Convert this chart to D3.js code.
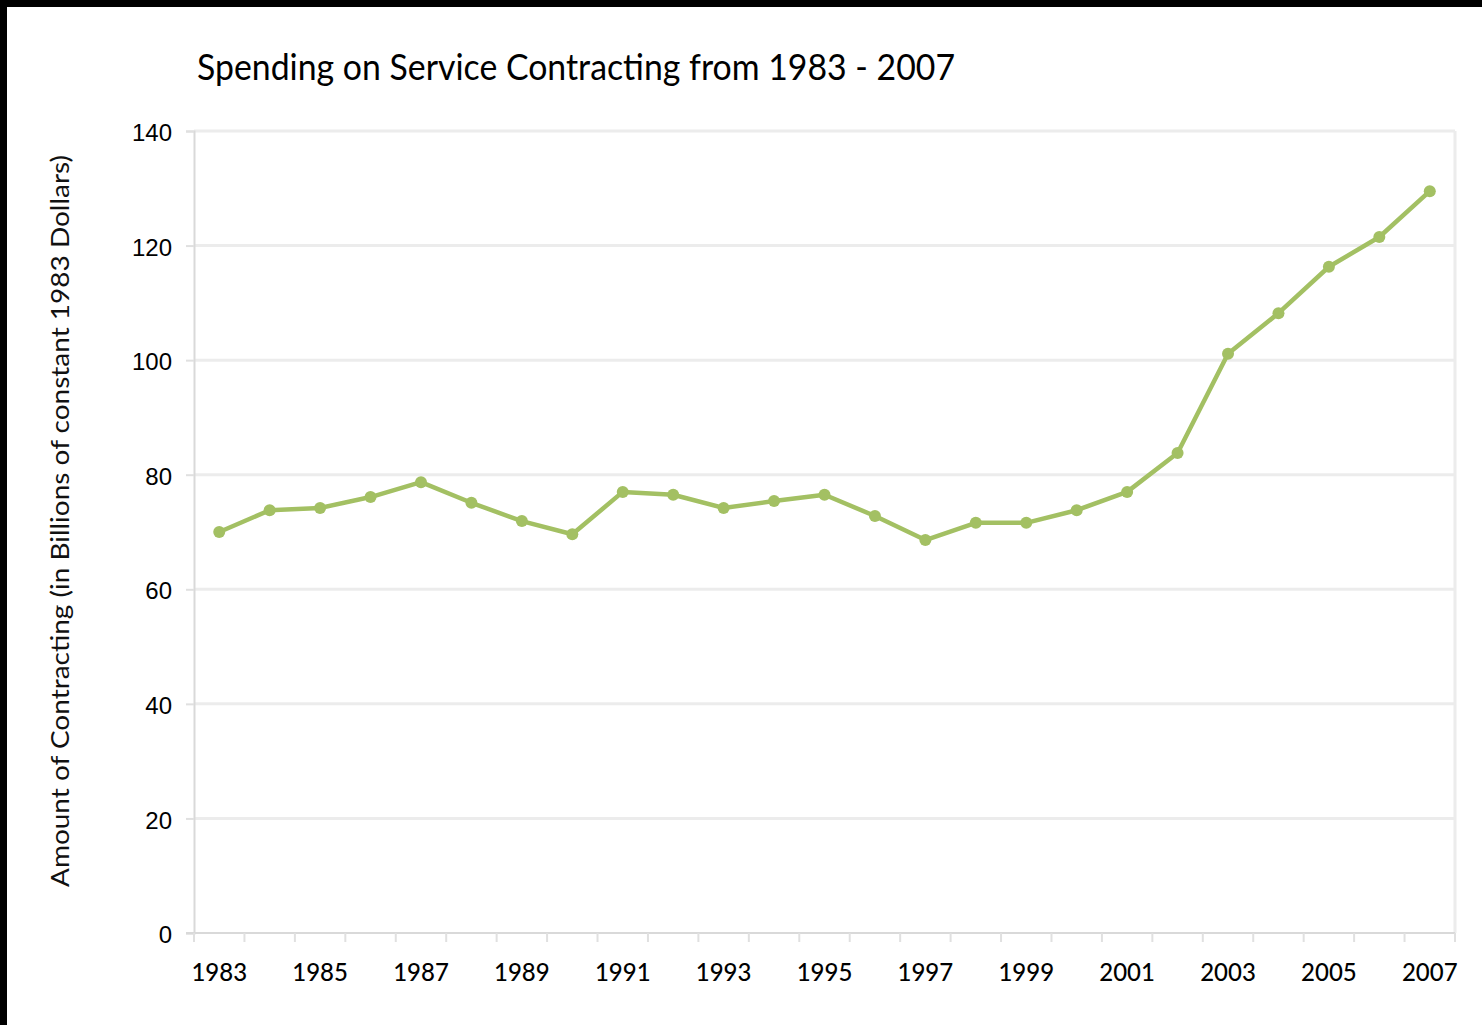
<!DOCTYPE html>
<html>
<head>
<meta charset="utf-8">
<script src="https://cdn.jsdelivr.net/npm/d3@7"></script>
<style>
  html, body { margin: 0; padding: 0; background: #000; }
  .chartWrapper { position: absolute; left: 7px; top: 7px; width: 1475px; height: 1018px; background: #fff; }
</style>
</head>
<body>
<div class="chartWrapper"></div>
<script>
const width = 1482, height = 1025;

const years = ["1983","1984","1985","1986","1987","1988","1989","1990","1991","1992","1993","1994","1995",
  "1996","1997","1998","1999","2000","2001","2002","2003","2004","2005","2006","2007"];
const spending = [70.0, 73.8, 74.2, 76.1, 78.7, 75.1, 71.9, 69.6, 77.0, 76.5, 74.2, 75.4, 76.5,
  72.8, 68.6, 71.6, 71.6, 73.8, 77.0, 83.8, 101.1, 108.2, 116.3, 121.5, 129.5];
const yTicks = [0, 20, 40, 60, 80, 100, 120, 140];
const xLabelYears = years.filter((d, i) => i % 2 === 0);

const plot = { left: 194, right: 1455, top: 131, bottom: 933 };

const svg = d3.select("body").append("svg")
  .attr("width", width)
  .attr("height", height)
  .style("position", "absolute")
  .style("left", 0)
  .style("top", 0)
  .style("font-family", "Lato, 'Open Sans', sans-serif");

const x = d3.scaleBand()
  .domain(years)
  .range([plot.left, plot.right]);

const y = d3.scaleLinear()
  .domain([0, 140])
  .range([plot.bottom, plot.top]);

// gridlines
svg.append("g")
  .selectAll("line")
  .data(yTicks.filter(d => d > 0))
  .join("line")
  .attr("x1", plot.left)
  .attr("x2", plot.right)
  .attr("y1", d => y(d))
  .attr("y2", d => y(d))
  .attr("stroke", "#ececec")
  .attr("stroke-width", 3);

// right border of plot
svg.append("line")
  .attr("x1", plot.right).attr("x2", plot.right)
  .attr("y1", plot.top).attr("y2", plot.bottom)
  .attr("stroke", "#ececec")
  .attr("stroke-width", 3);

// y axis
const yAxis = svg.append("g")
  .attr("transform", `translate(${plot.left},0)`)
  .call(d3.axisLeft(y).tickValues(yTicks).tickSize(8).tickPadding(14));
yAxis.select(".domain").attr("stroke", "#d9d9d9").attr("stroke-width", 2);
yAxis.selectAll(".tick line").attr("stroke", "#e0e0e0").attr("stroke-width", 2);
yAxis.selectAll(".tick text")
  .attr("fill", "#000")
  .style("font-size", "24px")
  .style("font-weight", 500)
  .attr("dy", "0.4em");

// x axis: ticks at category boundaries
const boundaries = years.map(d => x(d)).concat([plot.right]);
svg.append("line")
  .attr("x1", plot.left - 8).attr("x2", plot.right)
  .attr("y1", plot.bottom).attr("y2", plot.bottom)
  .attr("stroke", "#d9d9d9").attr("stroke-width", 2);
svg.append("g")
  .selectAll("line")
  .data(boundaries)
  .join("line")
  .attr("x1", d => d).attr("x2", d => d)
  .attr("y1", plot.bottom).attr("y2", plot.bottom + 9)
  .attr("stroke", "#e0e0e0").attr("stroke-width", 2);

svg.append("g")
  .selectAll("text")
  .data(xLabelYears)
  .join("text")
  .attr("x", d => x(d) + x.bandwidth() / 2)
  .attr("y", 981)
  .attr("text-anchor", "middle")
  .attr("fill", "#000")
  .style("font-size", "24px")
  .style("font-weight", 500)
  .text(d => d);

// y axis title
svg.append("text")
  .attr("transform", `translate(69,${(155 + 887) / 2}) rotate(-90)`)
  .attr("text-anchor", "middle")
  .attr("fill", "#111")
  .attr("textLength", 732)
  .attr("lengthAdjust", "spacingAndGlyphs")
  .style("font-size", "25px")
  .text("Amount of Contracting (in Billions of constant 1983 Dollars)");

// title
svg.append("text")
  .attr("x", 197)
  .attr("y", 80)
  .attr("fill", "#000")
  .attr("textLength", 758)
  .attr("lengthAdjust", "spacingAndGlyphs")
  .style("font-size", "37px")
  .text("Spending on Service Contracting from 1983 - 2007");

// series
const line = d3.line()
  .x((d, i) => x(years[i]) + x.bandwidth() / 2)
  .y(d => y(d));

svg.append("path")
  .datum(spending)
  .attr("d", line)
  .attr("fill", "none")
  .attr("stroke", "#a3c063")
  .attr("stroke-width", 4.5)
  .attr("stroke-linejoin", "round");

svg.append("g")
  .selectAll("circle")
  .data(spending)
  .join("circle")
  .attr("cx", (d, i) => x(years[i]) + x.bandwidth() / 2)
  .attr("cy", d => y(d))
  .attr("r", 6)
  .attr("fill", "#a3c063");
</script>
</body>
</html>
